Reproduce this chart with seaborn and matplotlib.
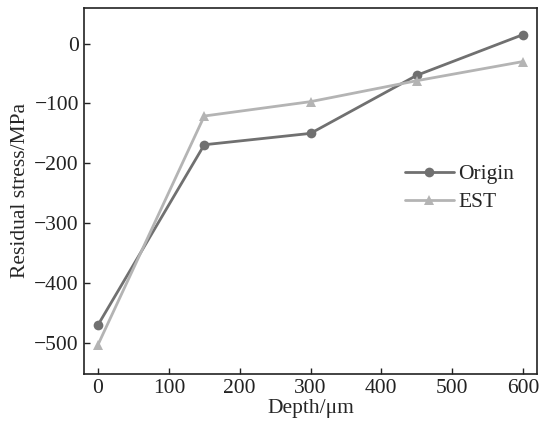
import seaborn as sns
from matplotlib import pyplot as plt
import pandas as pd

depth = [0, 150, 300, 450, 600]
origin = [-470, -169, -150, -53, 15]
est = [-503, -121, -97, -62, -30]

df = pd.DataFrame({
    'Depth': depth * 2,
    'Stress': origin + est,
    'Group': ['Origin'] * 5 + ['EST'] * 5,
})

sns.set_style('ticks')
plt.rcParams['font.family'] = ['Liberation Serif', 'DejaVu Serif']

fig, ax = plt.subplots(figsize=(5.41, 4.26), dpi=100)
sns.lineplot(data=df, x='Depth', y='Stress', hue='Group', style='Group',
             palette={'Origin': '#707070', 'EST': '#b4b4b4'},
             markers={'Origin': 'o', 'EST': '^'}, dashes=False,
             linewidth=2, markersize=7, markeredgewidth=0, ax=ax)

ax.set_xlim(-20, 620)
ax.set_ylim(-552, 60)
ax.set_xticks(range(0, 601, 100))
ax.set_yticks(range(-500, 1, 100))
ax.set_yticklabels(['\u2212500', '\u2212400', '\u2212300', '\u2212200', '\u2212100', '0'])
ax.tick_params(direction='in', labelsize=15.5, length=4, width=1, colors='#222222')
for s in ax.spines.values():
    s.set_color('#222222')
    s.set_linewidth(1.2)
ax.set_xlabel('Depth/\u03bcm', fontsize=15.5, labelpad=1)
ax.set_ylabel('Residual stress/MPa', fontsize=15.5, labelpad=3)
leg = ax.legend(title=None, frameon=False, fontsize=15.5, loc='upper left',
                bbox_to_anchor=(0.665, 0.625), handlelength=2.3, labelspacing=0.35,
                handletextpad=0.2)

plt.subplots_adjust(left=0.155, right=0.993, top=0.982, bottom=0.122)
plt.savefig('out.png', dpi=100)
